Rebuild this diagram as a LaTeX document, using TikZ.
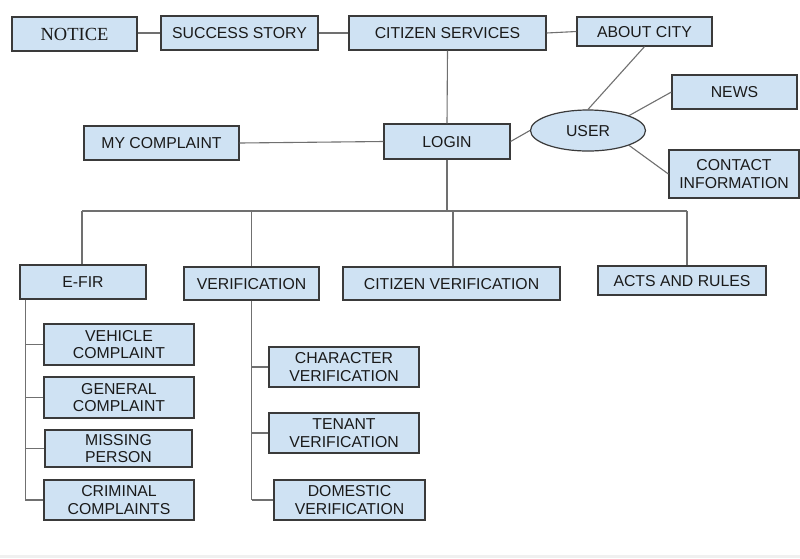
\documentclass[tikz,border=0pt]{standalone}
\usepackage{fontspec}
\setmainfont{Liberation Sans}
\newfontfamily\serifface{Liberation Serif}
\usetikzlibrary{shapes.geometric,calc}
\definecolor{boxfill}{HTML}{CFE2F3}
\definecolor{boxline}{HTML}{3A3A3A}
\definecolor{conn}{HTML}{707070}
\definecolor{txt}{HTML}{1A1A1A}
\begin{document}
\begin{tikzpicture}[x=1pt,y=-1pt,
  box/.style={draw=boxline,line width=1.2pt,fill=boxfill,inner sep=0pt,text=txt,
    font=\fontsize{15.8}{17.3}\selectfont,align=center,text depth=0pt},
  conline/.style={draw=conn,line width=1.1pt}]
\useasboundingbox (0,0) rectangle (800,558);
\fill[white] (0,0) rectangle (800,558);
\fill[gray!12] (0,555) rectangle (800,558);
% top row
\node[box,minimum width=125,minimum height=34,font=\serifface\fontsize{18.5}{20}\selectfont] (notice) at (74.5,34) {NOTICE};
\node[box,minimum width=157,minimum height=34] (success) at (239.5,33) {SUCCESS STORY};
\node[box,minimum width=197,minimum height=34] (citizen) at (447.5,33) {CITIZEN SERVICES};
\node[box,minimum width=135,minimum height=29] (about) at (644.5,31.5) {ABOUT CITY};
\node[box,minimum width=125,minimum height=34] (news) at (734.5,92) {NEWS};
\node[box,ellipse,minimum width=115,minimum height=41] (user) at (588,130.5) {USER};
\node[box,minimum width=130,minimum height=48] (contact) at (734,174) {CONTACT\\INFORMATION};
\node[box,minimum width=126,minimum height=35] (login) at (447,141.5) {LOGIN};
\node[box,minimum width=155,minimum height=34] (mycomp) at (161.5,143) {MY COMPLAINT};
% second level
\node[box,minimum width=126,minimum height=34] (efir) at (83,282) {E-FIR};
\node[box,minimum width=135,minimum height=33] (verif) at (251.5,283.5) {VERIFICATION};
\node[box,minimum width=217,minimum height=33] (citver) at (451.5,283.5) {CITIZEN VERIFICATION};
\node[box,minimum width=168,minimum height=29] (acts) at (682,280.5) {ACTS AND RULES};
% E-FIR children
\node[box,minimum width=150,minimum height=41] (vehicle) at (119,344.5) {VEHICLE\\COMPLAINT};
\node[box,minimum width=150,minimum height=41] (general) at (119,397.5) {GENERAL\\COMPLAINT};
\node[box,minimum width=147,minimum height=37] (missing) at (118.5,448.5) {MISSING\\PERSON};
\node[box,minimum width=150,minimum height=40] (criminal) at (119,500) {CRIMINAL\\COMPLAINTS};
% Verification children
\node[box,minimum width=150,minimum height=40] (character) at (344,367) {CHARACTER\\VERIFICATION};
\node[box,minimum width=150,minimum height=40] (tenant) at (344,433) {TENANT\\VERIFICATION};
\node[box,minimum width=151,minimum height=40] (domestic) at (349.5,500) {DOMESTIC\\VERIFICATION};
% connectors top
\draw[conline] (notice.east |- success.west) -- (success.west);
\draw[conline] (success.east) -- (citizen.west);
\draw[conline] (citizen.east) -- (about.west);
\draw[conline] (citizen.south) -- (login.north);
\draw[conline] (mycomp.east) -- (login.west);
\draw[conline] (login.east) -- (user.west);
\draw[conline] (user.north) -- (about.south);
\draw[conline] (user.north east) -- (news.west);
\draw[conline] (user.south east) -- (contact.west);
% bus
\coordinate (bus) at (447,211);
\coordinate (busL) at (82,211);
\coordinate (busR) at (687,211);
\draw[conline] (login.south) -- (bus);
\draw[conline] (busL) -- (busR);
\draw[conline] (busL) -- (busL |- efir.north);
\draw[conline] (verif.north |- bus) -- (verif.north);
\draw[conline] ([xshift=1.5pt]citver.north |- bus) -- ([xshift=1.5pt]citver.north);
\draw[conline] (busR) -- (busR |- acts.north);
% E-FIR trunk
\coordinate (etop) at ([xshift=6pt]efir.south west);
\draw[conline] (etop) -- (etop |- criminal.west);
\foreach \c in {vehicle,general,missing,criminal}
  \draw[conline] (etop |- \c.west) -- (\c.west);
% Verification trunk
\coordinate (vtop) at (verif.south);
\draw[conline] (vtop) -- (vtop |- domestic.west);
\foreach \c in {character,tenant,domestic}
  \draw[conline] (vtop |- \c.west) -- (\c.west);
\end{tikzpicture}
\end{document}
